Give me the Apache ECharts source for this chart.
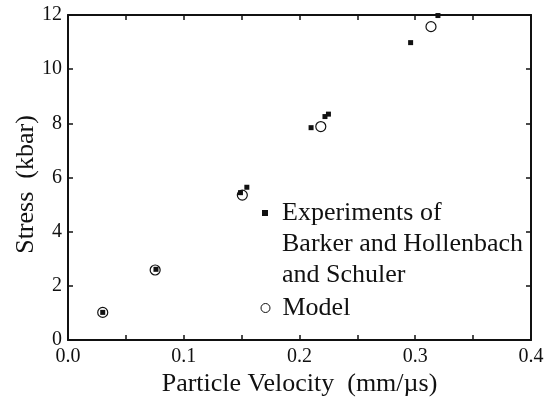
<!DOCTYPE html>
<html>
<head>
<meta charset="utf-8">
<script src="https://cdn.jsdelivr.net/npm/echarts@6/dist/echarts.min.js"></script>
<style>html,body{margin:0;padding:0;background:#fff}#c{width:547px;height:400px}</style>
</head>
<body>
<div id="c"></div>
<script>
const expName = 'Experiments of Barker and Hollenbach and Schuler';
const modelName = 'Model';
const expX = [0.030, 0.076, 0.149, 0.1545, 0.210, 0.222, 0.225, 0.296, 0.3196];
const expY = [1.02, 2.61, 5.44, 5.64, 7.84, 8.25, 8.34, 10.98, 11.98];
const modelX = [0.030, 0.0753, 0.1506, 0.2184, 0.3136];
const modelY = [1.02, 2.585, 5.35, 7.88, 11.57];
const xTitle = 'Particle Velocity  (mm/\u00b5s)';
const yTitle = 'Stress  (kbar)';

const FONT = 'Liberation Serif';
const INK = '#111';
const chart = echarts.init(document.getElementById('c'), null, {renderer: 'canvas'});

const axisLine = {show: true, onZero: false, lineStyle: {color: INK, width: 2}};
const tick = {show: true, inside: true, length: 5, lineStyle: {color: INK, width: 1.5}};
const minor = {show: true, splitNumber: 2, length: 5, lineStyle: {color: INK, width: 1.5}};
const legendText = {color: INK, fontFamily: FONT, fontSize: 26, lineHeight: 31};

chart.setOption({
  animation: false,
  backgroundColor: '#fff',
  grid: {left: 68, right: 16, top: 15, bottom: 60, outerBoundsMode: 'none', containLabel: false},
  xAxis: [{
    type: 'value', min: 0, max: 0.4, interval: 0.1, position: 'bottom',
    axisLine, axisTick: tick, minorTick: minor, splitLine: {show: false},
    axisLabel: {color: INK, fontFamily: FONT, fontSize: 20, margin: 7,
      formatter: v => v.toFixed(1)},
    name: xTitle, nameLocation: 'middle', nameGap: 31, nameMoveOverlap: false,
    nameTextStyle: {color: INK, fontFamily: FONT, fontSize: 26}
  }, {
    type: 'value', min: 0, max: 0.4, interval: 0.1, position: 'top',
    axisLine, axisTick: tick, minorTick: minor,
    splitLine: {show: false}, axisLabel: {show: false}
  }],
  yAxis: [{
    type: 'value', min: 0, max: 12, interval: 2, position: 'left',
    axisLine, axisTick: tick, splitLine: {show: false},
    axisLabel: {color: INK, fontFamily: FONT, fontSize: 20, margin: 6},
    name: yTitle, nameLocation: 'middle', nameGap: 29, nameMoveOverlap: false,
    nameTextStyle: {color: INK, fontFamily: FONT, fontSize: 26, padding: [0, 14, 0, 0]}
  }, {
    type: 'value', min: 0, max: 12, interval: 2, position: 'right',
    axisLine, axisTick: tick, splitLine: {show: false}, axisLabel: {show: false}
  }],
  legend: [{
    orient: 'vertical', left: 262, top: 135.5, padding: 0,
    itemWidth: 6, itemHeight: 6,
    textStyle: Object.assign({padding: [0, 0, 0, 9]}, legendText),
    formatter: () => '\n\nExperiments of\nBarker and Hollenbach\nand Schuler',
    data: [{name: expName, icon: 'rect', itemStyle: {color: INK, borderWidth: 0}}]
  }, {
    orient: 'vertical', left: 260.5, top: 292.5, padding: 0,
    itemWidth: 9, itemHeight: 9,
    textStyle: Object.assign({padding: [0, 0, 0, 7.5]}, legendText),
    data: [{name: modelName, icon: 'circle', itemStyle: {color: '#fff', borderColor: INK, borderWidth: 1}}]
  }],
  series: [{
    name: modelName, type: 'scatter', symbol: 'circle', symbolSize: 10, z: 2,
    itemStyle: {color: '#fff', borderColor: INK, borderWidth: 1.2, opacity: 1},
    data: modelX.map((x, i) => [x, modelY[i]])
  }, {
    name: expName, type: 'scatter', symbol: 'rect', symbolSize: 5, z: 3, clip: false,
    itemStyle: {color: INK, opacity: 1},
    data: expX.map((x, i) => [x, expY[i]])
  }]
});
</script>
</body>
</html>
